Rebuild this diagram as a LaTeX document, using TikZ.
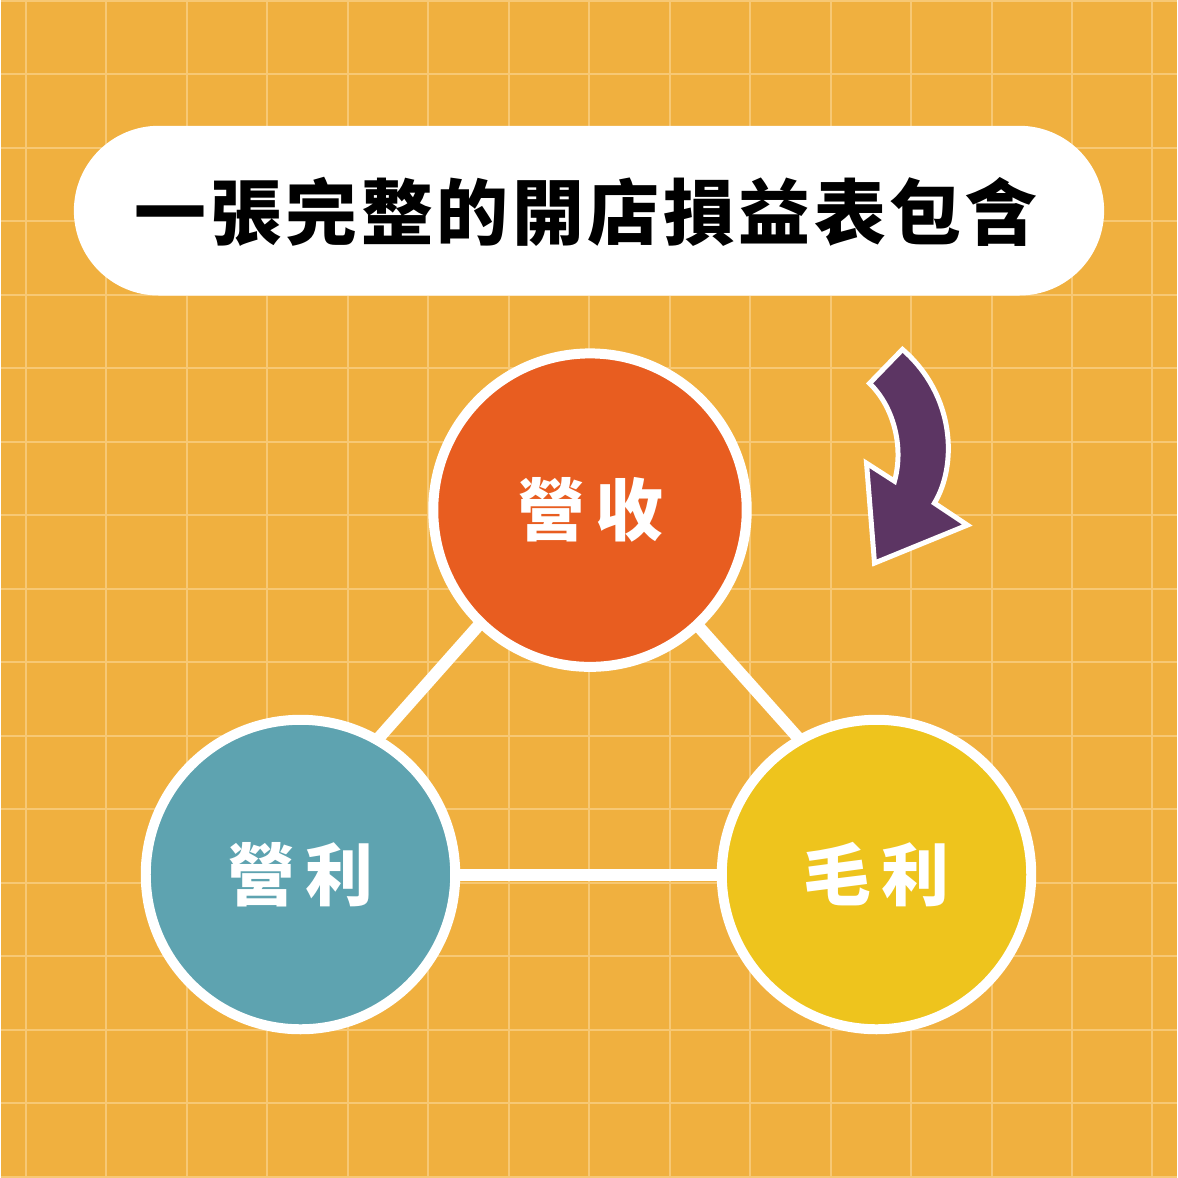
\documentclass[tikz,border=0pt]{standalone}
\usepackage{fontspec}
\newfontfamily\cjk{Noto Sans CJK TC}
\newfontfamily\cjkt{Noto Sans CJK TC}[LetterSpace=5]
\newfontfamily\cjkc{Noto Sans CJK TC}[LetterSpace=15]
\definecolor{bgor}{HTML}{F0B03F}
\definecolor{gridc}{HTML}{F7C874}
\definecolor{corange}{HTML}{E85D20}
\definecolor{cteal}{HTML}{5EA3B0}
\definecolor{cyellow}{HTML}{EEC41D}
\definecolor{cpurple}{HTML}{5C3563}
\pgfdeclarelayer{bg}
\pgfdeclarelayer{mid}
\pgfsetlayers{bg,mid,main}
\tikzset{
  bubble/.style={circle, draw=white, line width=5pt, inner sep=0pt,
    text=white, font=\cjkc\bfseries\fontsize{34pt}{40pt}\selectfont},
  link/.style={draw=white, line width=6pt, shorten <=-8pt, shorten >=-8pt},
  gridline/.style={draw=gridc, line width=1pt}
}
\begin{document}
\begin{tikzpicture}[x=0.5pt,y=-0.5pt]
\begin{pgfonlayer}{bg}
  \fill[bgor] (0,0) rectangle (1178,1178);
  \foreach \k in {0,...,14} {\draw[gridline] ({25+80.6*\k},0) -- ({25+80.6*\k},1178);}
  \foreach \k in {0,...,16} {\draw[gridline] (0,{73.6*\k}) -- (1178,{73.6*\k});}
\end{pgfonlayer}
\useasboundingbox (0,0) rectangle (1178,1178);
% title
\node[fill=white, rounded corners=42.5pt, minimum width=516pt, minimum height=85pt] (pill) at (589,210) {};
\node[font=\cjkt\bfseries\fontsize{36pt}{42pt}\selectfont, text=black, inner sep=0pt] (title) at (586,211) {一張完整的開店損益表包含};
% circles
\node[bubble, fill=corange, minimum size=157pt] (or) at (590,510) {營收};
\node[bubble, fill=cteal, minimum size=155pt] (te) at (300,875) {營利};
\node[bubble, fill=cyellow, minimum size=155pt] (ye) at (877,875) {毛利};
\begin{pgfonlayer}{mid}
  \draw[link] (or.226) -- (te.60);
  \draw[link] (or.313) -- (ye.120);
  \draw[link] (te) -- (ye);
\end{pgfonlayer}
% curved arrow
\draw[draw=white, line width=2.5pt, fill=cpurple, line join=miter]
  (903,349) -- (870,383) .. controls (893,405) and (905,445) .. (895,481)
  -- (867,463) -- (875,563) -- (968,525) -- (935,503)
  .. controls (958,465) and (956,395) .. (903,349) -- cycle;
\end{tikzpicture}
\end{document}
